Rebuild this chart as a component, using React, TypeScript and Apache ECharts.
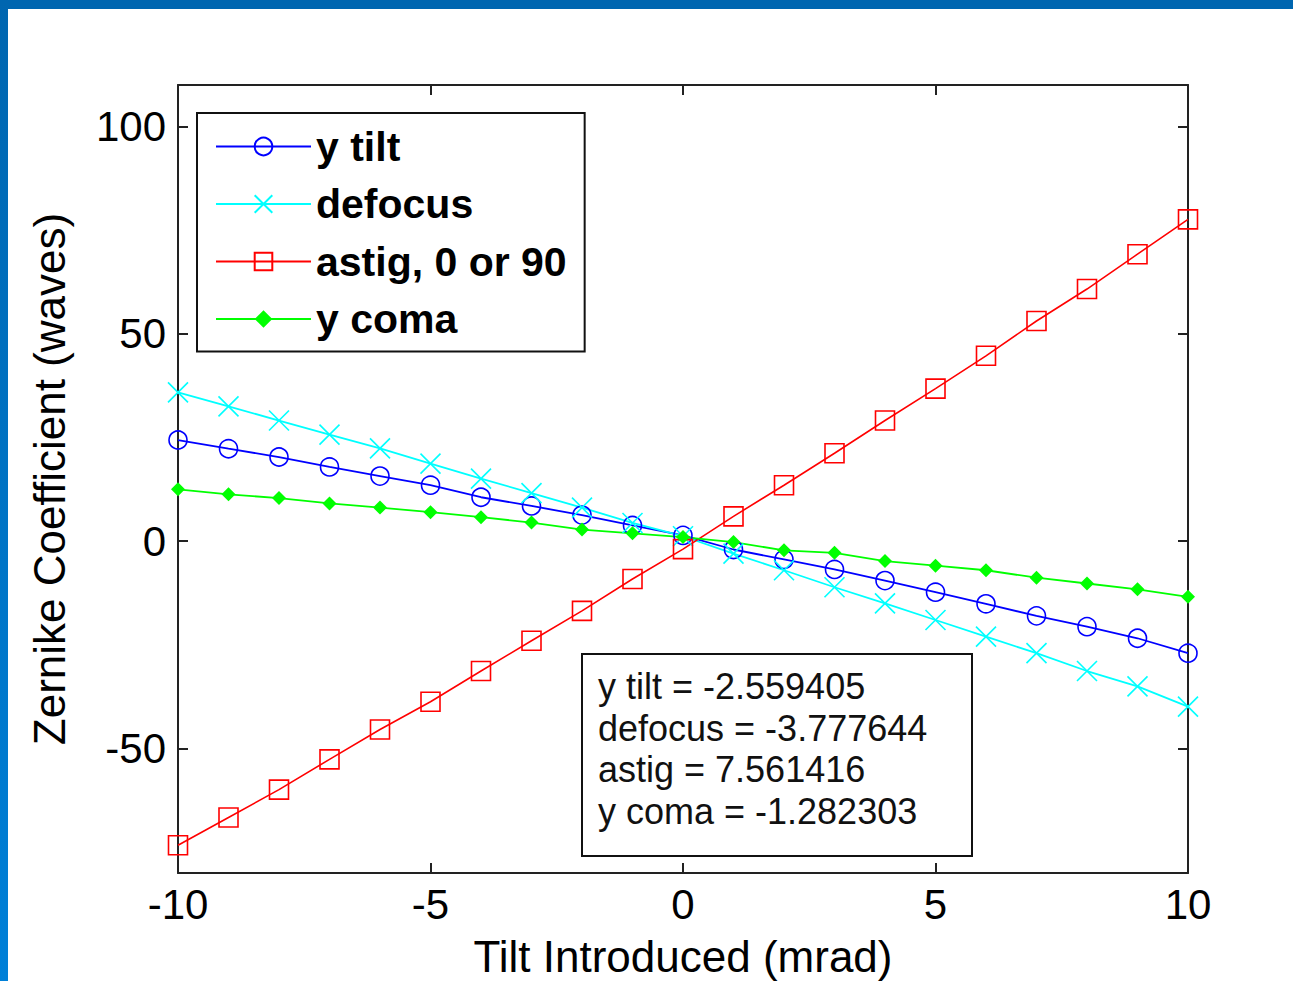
import React, { useEffect, useRef } from "react";
import * as echarts from "echarts";

const xValues = [-10, -9, -8, -7, -6, -5, -4, -3, -2, -1, 0, 1, 2, 3, 4, 5, 6, 7, 8, 9, 10];
const yTilt = [24.4, 22.3, 20.3, 17.9, 15.7, 13.5, 10.6, 8.5, 6.3, 3.8, 1.4, -2.0, -4.4, -6.8, -9.5, -12.3, -15.1, -18.0, -20.6, -23.4, -27.0];
const defocus = [35.9, 32.5, 29.1, 25.7, 22.4, 18.7, 15.1, 11.6, 8.1, 4.4, 1.2, -3.0, -7.0, -11.1, -15.0, -19.0, -23.0, -27.0, -31.3, -35.0, -39.9];
const astig = [-73.3, -66.6, -59.9, -52.6, -45.4, -38.7, -31.3, -24.0, -16.8, -9.1, -1.9, 6.0, 13.5, 21.2, 29.1, 36.8, 44.7, 53.1, 60.8, 69.2, 77.6];
const yComa = [12.5, 11.3, 10.4, 9.1, 8.1, 7.0, 5.8, 4.5, 2.8, 1.9, 1.0, -0.2, -2.2, -2.8, -4.8, -5.9, -7.0, -8.8, -10.2, -11.6, -13.4];
const seriesNames = ["y tilt", "defocus", "astig, 0 or 90", "y coma"];
const yTicks = [-50, 0, 50, 100];
const annotationLines = [
  "y tilt = -2.559405",
  "defocus = -3.777644",
  "astig = 7.561416",
  "y coma = -1.282303",
];

const FONT = "'Liberation Sans', Arial, Helvetica, sans-serif";

export default function App() {
  const ref = useRef<HTMLDivElement>(null);
  useEffect(() => {
    if (!ref.current) return;
    const chart = echarts.init(ref.current, null, { renderer: "svg" });
    const pairs = (ys: number[]) => xValues.map((x, i) => [x, ys[i]]);
    const axisLine = { show: true, onZero: false, lineStyle: { color: "#222", width: 2 } };
    const tickStyle = { inside: true, length: 10, lineStyle: { color: "#222", width: 2 } };
    const option: any = {
      animation: false,
      backgroundColor: "#ffffff",
      grid: {
        left: 178,
        top: 85,
        right: 105,
        bottom: 108,
        containLabel: false,
        outerBoundsMode: "none",
      },
      legend: {
        orient: "vertical",
        left: 197,
        top: 113,
        padding: [13, 18, 12, 18],
        itemWidth: 95,
        itemHeight: 22,
        itemGap: 16.5,
        borderColor: "#111",
        borderWidth: 2,
        backgroundColor: "#fff",
        data: seriesNames,
        textStyle: {
          fontFamily: FONT,
          fontSize: 41,
          fontWeight: "bold",
          color: "#000",
          lineHeight: 40,
          padding: [0, 0, 0, 0],
        },
      },
      xAxis: [
        {
          type: "value",
          min: -10,
          max: 10,
          interval: 5,
          position: "bottom",
          name: "Tilt Introduced (mrad)",
          nameLocation: "middle",
          nameGap: 61,
          nameTextStyle: { fontFamily: FONT, fontSize: 44, color: "#000" },
          axisLine,
          axisTick: tickStyle,
          splitLine: { show: false },
          axisLabel: { fontFamily: FONT, fontSize: 42, color: "#000", margin: 10 },
        },
        {
          type: "value",
          min: -10,
          max: 10,
          interval: 5,
          position: "top",
          axisLine,
          axisTick: tickStyle,
          splitLine: { show: false },
          axisLabel: { show: false },
        },
      ],
      yAxis: [
        {
          type: "value",
          min: -80,
          max: 110,
          position: "left",
          name: "Zernike Coefficient (waves)",
          nameLocation: "middle",
          nameGap: 107,
          nameTextStyle: { fontFamily: FONT, fontSize: 44, color: "#000" },
          axisLine,
          axisTick: { ...tickStyle, customValues: yTicks },
          splitLine: { show: false },
          axisLabel: { fontFamily: FONT, fontSize: 42, color: "#000", margin: 12, customValues: yTicks },
        },
        {
          type: "value",
          min: -80,
          max: 110,
          position: "right",
          axisLine,
          axisTick: { ...tickStyle, customValues: yTicks },
          splitLine: { show: false },
          axisLabel: { show: false, customValues: yTicks },
        },
      ],
      series: [
        {
          name: seriesNames[0],
          type: "line",
          data: pairs(yTilt),
          symbol: "circle",
          symbolSize: 18,
          showAllSymbol: true,
          lineStyle: { color: "#0000ff", width: 1.8 },
          itemStyle: { color: "rgba(255,255,255,0)", borderColor: "#0000ff", borderWidth: 1.6 },
        },
        {
          name: seriesNames[1],
          type: "line",
          data: pairs(defocus),
          symbol: "path://M0 0L10 10M10 0L0 10",
          symbolSize: 20,
          showAllSymbol: true,
          lineStyle: { color: "#00ffff", width: 1.8 },
          itemStyle: { color: "rgba(255,255,255,0)", borderColor: "#00ffff", borderWidth: 1.6 },
        },
        {
          name: seriesNames[2],
          type: "line",
          data: pairs(astig),
          symbol: "rect",
          symbolSize: 19,
          showAllSymbol: true,
          lineStyle: { color: "#ff0000", width: 1.6 },
          itemStyle: { color: "rgba(255,255,255,0)", borderColor: "#ff0000", borderWidth: 1.6 },
        },
        {
          name: seriesNames[3],
          type: "line",
          data: pairs(yComa),
          symbol: "diamond",
          symbolSize: 14,
          showAllSymbol: true,
          lineStyle: { color: "#00ff00", width: 1.8 },
          itemStyle: { color: "#00ff00", borderColor: "#00ff00", borderWidth: 0 },
        },
      ],
      graphic: [
        {
          type: "rect",
          left: 0,
          top: 0,
          shape: { x: 0, y: 0, width: 1293, height: 9 },
          style: { fill: "#0066b0" },
          z: 100,
        },
        {
          type: "rect",
          left: 0,
          top: 0,
          shape: { x: 0, y: 0, width: 8, height: 981 },
          style: {
            fill: new echarts.graphic.LinearGradient(0, 0, 0, 1, [
              { offset: 0, color: "#0066b0" },
              { offset: 1, color: "#0080d8" },
            ]),
          },
          z: 100,
        },
        {
          type: "group",
          left: 581,
          top: 653,
          z: 50,
          children: [
            {
              type: "rect",
              shape: { x: 0, y: 0, width: 390, height: 202 },
              style: { fill: "#fff", stroke: "#111", lineWidth: 2 },
            },
            {
              type: "text",
              x: 16,
              y: 12,
              style: {
                text: annotationLines.join("\n"),
                font: `36px ${FONT}`,
                fill: "#111",
                lineHeight: 41.5,
              },
            },
          ],
        },
      ],
    };
    chart.setOption(option);
    return () => chart.dispose();
  }, []);
  return (
    <div
      ref={ref}
      style={{ position: "fixed", left: 0, top: 0, width: 1293, height: 981, background: "#fff" }}
    />
  );
}
